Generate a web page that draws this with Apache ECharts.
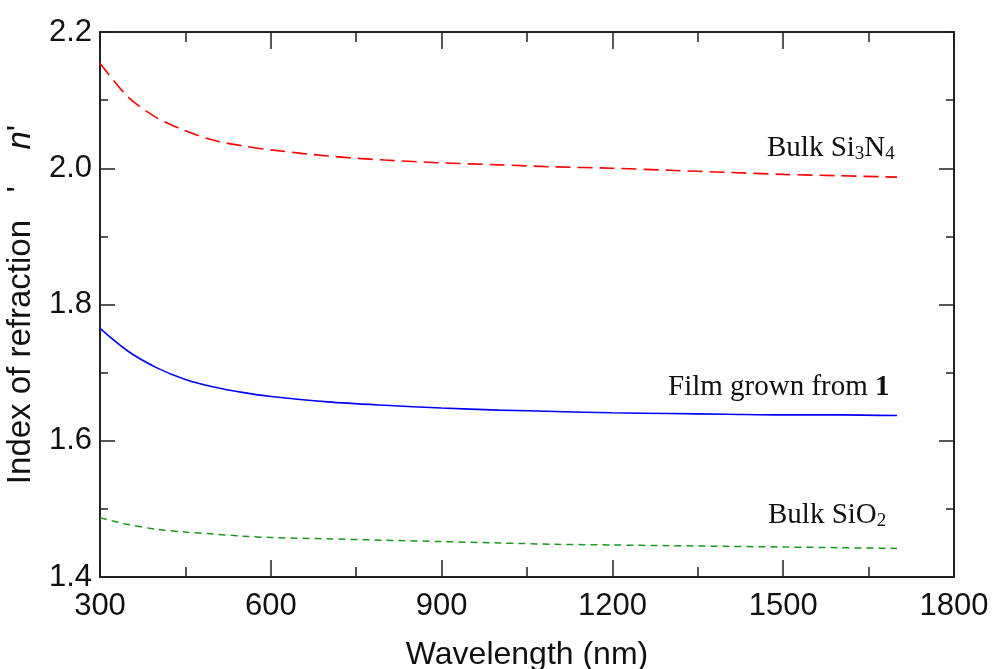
<!DOCTYPE html>
<html>
<head>
<meta charset="utf-8">
<script src="https://cdn.jsdelivr.net/npm/echarts@6/dist/echarts.min.js"></script>
<style>
  html, body { margin: 0; padding: 0; background: #fff; }
  #chart { width: 995px; height: 669px; }
</style>
</head>
<body>
<div id="chart"></div>
<script>
// wavelength (nm)
const wavelengths = [300, 350, 400, 450, 500, 550, 600, 700, 800, 900, 1000, 1100, 1200, 1300, 1400, 1500, 1600, 1700];
// index of refraction n'
const bulkSi3N4 = [2.154, 2.104, 2.074, 2.055, 2.041, 2.033, 2.027, 2.018, 2.012, 2.008, 2.005, 2.002, 2.000, 1.997, 1.994, 1.991, 1.989, 1.987];
const filmFrom1 = [1.765, 1.731, 1.707, 1.690, 1.679, 1.671, 1.665, 1.657, 1.652, 1.648, 1.645, 1.643, 1.641, 1.640, 1.639, 1.638, 1.638, 1.637];
const bulkSiO2 = [1.487, 1.477, 1.470, 1.466, 1.463, 1.460, 1.458, 1.456, 1.454, 1.452, 1.450, 1.448, 1.447, 1.446, 1.445, 1.444, 1.443, 1.442];

const xTicks = [300, 600, 900, 1200, 1500, 1800];
const yTicks = [1.4, 1.6, 1.8, 2.0, 2.2];

const pairs = (ys) => wavelengths.map((x, i) => [x, ys[i]]);

const chart = echarts.init(document.getElementById('chart'));

const axisLine = { show: true, onZero: false, lineStyle: { color: '#222', width: 2 } };
const tickStyle = { color: '#222', width: 1.5 };
const sans = 'Liberation Sans, Arial, sans-serif';
const serif = 'Liberation Serif, Times New Roman, serif';

// curve annotations (serif, with subscripts)
const curveLabel = (txt) => ({
  type: 'text',
  style: {
    text: txt,
    font: '29px ' + serif,
    fill: '#111',
    rich: {
      n: { fontSize: 29, fontFamily: serif, lineHeight: 30, color: '#111' },
      s: { fontSize: 19, fontFamily: serif, lineHeight: 15, verticalAlign: 'bottom', color: '#111' },
      b: { fontSize: 29, fontFamily: serif, fontWeight: 'bold', lineHeight: 30, color: '#111' }
    }
  }
});

chart.setOption({
  backgroundColor: '#fff',
  animation: false,
  grid: { left: 100, right: 41, top: 32, bottom: 92, outerBoundsMode: 'none' },
  xAxis: [
    {
      type: 'value', min: 300, max: 1800, interval: 300, position: 'bottom',
      name: 'Wavelength (nm)', nameLocation: 'middle', nameGap: 62,
      nameTextStyle: { fontFamily: sans, fontSize: 32, color: '#111' },
      axisLine: axisLine,
      axisTick: { show: true, inside: true, length: 17, lineStyle: tickStyle },
      minorTick: { show: true, splitNumber: 2, length: 10, lineStyle: tickStyle },
      axisLabel: {
        fontFamily: sans, fontSize: 31, color: '#111', margin: 14,
        formatter: (v) => xTicks.includes(v) ? String(v) : ''
      },
      splitLine: { show: false }
    },
    {
      type: 'value', min: 300, max: 1800, interval: 300, position: 'top',
      axisLine: axisLine,
      axisTick: { show: true, inside: true, length: 17, lineStyle: tickStyle },
      minorTick: { show: true, splitNumber: 2, length: 10, lineStyle: tickStyle },
      axisLabel: { show: false },
      splitLine: { show: false }
    }
  ],
  yAxis: [
    {
      type: 'value', min: 1.4, max: 2.2, interval: 0.2, position: 'left',
      name: "Index of refraction   '    {i|n}'", nameLocation: 'middle', nameGap: 63,
      nameMoveOverlap: false,
      nameTextStyle: {
        fontFamily: sans, fontSize: 33, color: '#111',
        rich: { i: { fontFamily: sans, fontSize: 33, fontStyle: 'italic', color: '#111' } }
      },
      axisLine: axisLine,
      axisTick: { show: true, inside: true, length: 15, lineStyle: tickStyle },
      minorTick: { show: true, splitNumber: 2, length: 8, lineStyle: tickStyle },
      axisLabel: {
        fontFamily: sans, fontSize: 31, color: '#111', margin: 8,
        formatter: (v) => {
          const t = yTicks.find((k) => Math.abs(k - v) < 1e-6);
          return t !== undefined ? t.toFixed(1) : '';
        }
      },
      splitLine: { show: false }
    },
    {
      type: 'value', min: 1.4, max: 2.2, interval: 0.2, position: 'right',
      axisLine: axisLine,
      axisTick: { show: true, inside: true, length: 15, lineStyle: tickStyle },
      minorTick: { show: true, splitNumber: 2, length: 8, lineStyle: tickStyle },
      axisLabel: { show: false },
      splitLine: { show: false }
    }
  ],
  series: [
    {
      name: 'Bulk Si3N4', type: 'line', smooth: 0.3, symbol: 'none',
      data: pairs(bulkSi3N4),
      lineStyle: { color: '#ff0000', width: 1.6, type: [15, 7] }
    },
    {
      name: 'Film grown from 1', type: 'line', smooth: 0.3, symbol: 'none',
      data: pairs(filmFrom1),
      lineStyle: { color: '#0000ff', width: 1.6 }
    },
    {
      name: 'Bulk SiO2', type: 'line', smooth: 0.3, symbol: 'none',
      data: pairs(bulkSiO2),
      lineStyle: { color: '#1a9a1a', width: 1.5, type: [7, 5] }
    }
  ],
  graphic: [
    Object.assign(curveLabel('{n|Bulk Si}{s|3}{n|N}{s|4}'), { left: 767, top: 134 }),
    Object.assign(curveLabel('{n|Film grown from }{b|1}'), { left: 668, top: 373 }),
    Object.assign(curveLabel('{n|Bulk SiO}{s|2}'), { left: 768, top: 501 })
  ]
});
</script>
</body>
</html>
